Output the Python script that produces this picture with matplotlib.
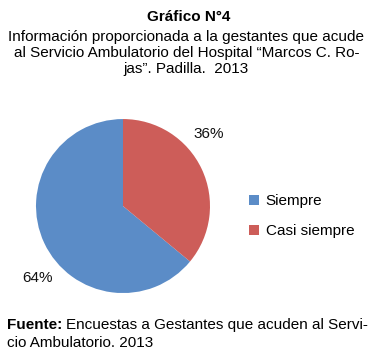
import matplotlib.pyplot as plt
import numpy as np
from matplotlib.patches import Patch

plt.rcParams['font.family'] = ['Liberation Sans', 'DejaVu Sans']

categorias = ['Siempre', 'Casi siempre']
valores = [64, 36]
colores = ['#5B8CC7', '#CD5D59']
etiquetas = ['64%', '36%']

fig = plt.figure(figsize=(3.73, 3.6), dpi=100)
ax = fig.add_axes([0.0965, 0.186, 0.4665, 0.4833])

wedges, _ = ax.pie(valores, colors=colores, startangle=90, counterclock=True,
                   radius=1.0, wedgeprops=dict(linewidth=0))
ax.set_xlim(-1, 1)
ax.set_ylim(-1, 1)
ax.set_aspect('equal')
ax.axis('off')

# etiquetas de porcentaje fuera del circulo
for w, lab in zip(wedges, etiquetas):
    ang = np.deg2rad((w.theta1 + w.theta2) / 2 + 15)
    ax.text(1.29 * np.cos(ang), 1.28 * np.sin(ang), lab, ha='center', va='center',
            fontsize=11, color='#111111', clip_on=False)

handles = [Patch(facecolor=c, edgecolor='none') for c in colores]
fig.legend(handles, categorias, loc='center left', bbox_to_anchor=(0.632, 0.40),
           frameon=False, fontsize=11, handlelength=0.65, handleheight=0.65,
           handletextpad=0.4, labelspacing=1.05)

fig.text(0.505, 0.953, 'Gráfico N°4', ha='center', va='center', fontsize=11,
         fontweight='bold')
fig.text(0.5, 0.852, 'Información proporcionada a la gestantes que acude\n'
         'al Servicio Ambulatorio del Hospital \u201cMarcos C. Ro-\n'
         'jas\u201d. Padilla.  2013', ha='center', va='center', fontsize=11,
         linespacing=1.2)

t1 = fig.text(0.02, 0.097, 'Fuente:', ha='left', va='center', fontsize=11,
              fontweight='bold')
fig.canvas.draw()
bb = t1.get_window_extent().transformed(fig.transFigure.inverted())
fig.text(bb.x1 + 0.01, 0.097, 'Encuestas a Gestantes que acuden al Servi-',
         ha='left', va='center', fontsize=11)
fig.text(0.02, 0.047, 'cio Ambulatorio. 2013', ha='left', va='center', fontsize=11)

fig.savefig('out.png', dpi=100)
